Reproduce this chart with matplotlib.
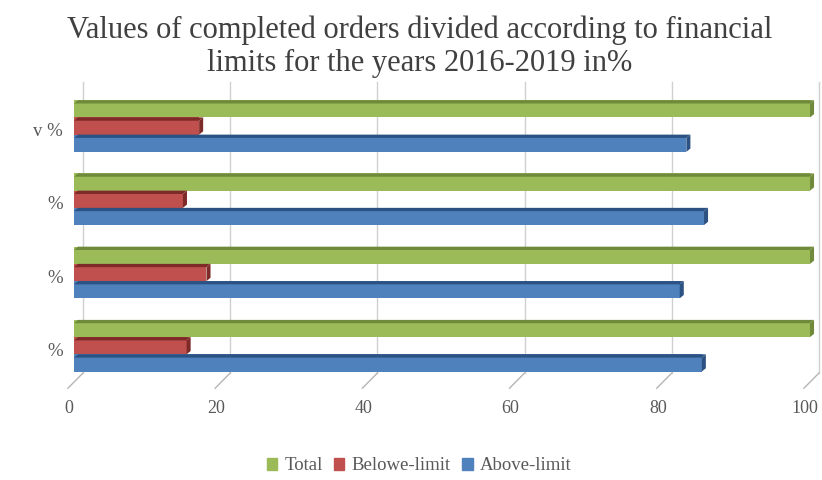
import numpy as np
import matplotlib
matplotlib.use("Agg")
import matplotlib.pyplot as plt
import matplotlib.patches as mpatches
from matplotlib.patches import Polygon
from matplotlib import transforms

# data (bottom group first)
categories = ["%", "%", "%", "v %"]
total = [100, 100, 100, 100]
below_limit = [15.3, 18.0, 14.8, 17.0]
above_limit = [85.3, 82.3, 85.6, 83.2]
x_ticks = [0, 20, 40, 60, 80, 100]

series = [
    ("Total", total, "#9bbb59", "#6f8a3a"),
    ("Belowe-limit", below_limit, "#c0504d", "#7e2a28"),
    ("Above-limit", above_limit, "#4f81bd", "#2c5283"),
]

plt.rcParams["font.family"] = ["Liberation Serif", "DejaVu Serif"]
text_color = "#595959"

fig = plt.figure(figsize=(8.22, 4.8), dpi=100)
ax = fig.add_axes([74 / 822, 1 - 375 / 480, (810 - 74) / 822, (375 - 85) / 480])
ax.set_xlim(0, 100)
ax.set_ylim(-0.40, 3.56)

h = 0.235
dx, dy = 0.55, 0.045  # depth of the fake 3d faces
y = np.arange(len(categories))

# back wall gridlines and diagonal floor ticks
for t in x_ticks:
    ax.plot([t + 1.22, t + 1.22], [-0.373, 3.6], color="#d0d0d0", lw=1.0,
            clip_on=False, zorder=0)
    ax.plot([t - 0.82, t + 1.22], [-0.58, -0.373], color="#b5b5b5", lw=1.0,
            clip_on=False, zorder=0)

for i, (name, vals, col, dark) in enumerate(series):
    offs = y + (1 - i) * h
    ax.barh(offs, vals, height=h, color=col, edgecolor="none", zorder=2)
    for yc, v in zip(offs, vals):
        top = yc + h / 2
        bot = yc - h / 2
        ax.add_patch(Polygon([(0, top - dy), (v, top - dy), (v + dx, top), (dx, top)],
                             closed=True, color=dark, lw=0, zorder=3, clip_on=False))
        ax.add_patch(Polygon([(v, bot), (v, top - dy), (v + dx, top), (v + dx, bot + dy)],
                             closed=True, color=dark, lw=0, zorder=3, clip_on=False))

ax.set_xticks(x_ticks)
ax.set_xticklabels([str(t) for t in x_ticks], fontsize=13, color=text_color)
ax.tick_params(axis="x", length=0, pad=18)
for lab in ax.get_xticklabels():
    lab.set_transform(lab.get_transform() + transforms.ScaledTranslation(-5 / 100, 0, fig.dpi_scale_trans))
ax.set_yticks(y - 0.05)
ax.set_yticklabels(categories, fontsize=13.5, color=text_color)
ax.tick_params(axis="y", length=0, pad=8)
for s in ax.spines.values():
    s.set_visible(False)

fig.suptitle("Values of completed orders divided according to financial\nlimits for the years 2016-2019 in%",
             fontsize=22, color="#404040", x=0.51, y=0.968, linespacing=1.2)

handles = [mpatches.Patch(color=c, label=n) for n, _, c, _ in series]
fig.legend(handles=handles, loc="center", bbox_to_anchor=(0.51, 1 - 466 / 480), ncol=3,
           frameon=False, fontsize=13.5, handlelength=0.55, handleheight=0.55,
           handletextpad=0.4, columnspacing=0.6, labelcolor=text_color)

fig.savefig("out.png", dpi=100, facecolor="white")
